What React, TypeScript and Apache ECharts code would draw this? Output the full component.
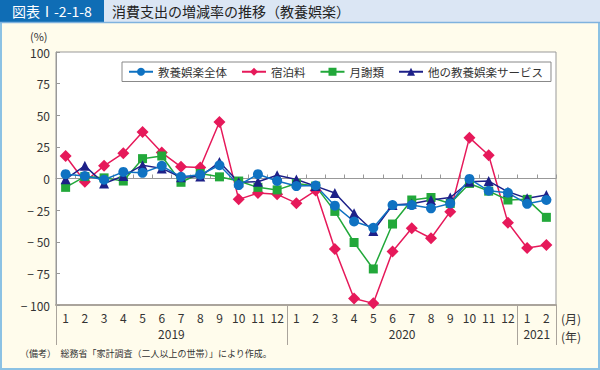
import React, { useEffect, useRef } from "react";
import * as echarts from "echarts";

const months = [
  "1", "2", "3", "4", "5", "6", "7", "8", "9", "10", "11", "12",
  "1", "2", "3", "4", "5", "6", "7", "8", "9", "10", "11", "12",
  "1", "2",
];
const yearLabels: Record<number, string> = { 6: "2019", 18: "2020", 25: "2021" };
const yearBoundaries = [0, 12, 24];

const totalName = "教養娯楽全体";
const lodgingName = "宿泊料";
const tuitionName = "月謝類";
const otherName = "他の教養娯楽サービス";

const total = [3.4, 2, -1, 5.2, 4.5, 10, 1.3, 3, 10.5, -5.2, 3.4, -2, -6, -5.5, -21.5, -34, -39, -21, -21, -23.6, -19.7, -0.3, -9.7, -11.3, -20, -17];
const lodging = [17.8, -2.6, 10, 20, 36.7, 20.5, 9.2, 8.7, 44.6, -16.5, -11.5, -12.5, -19.5, -9.5, -55.8, -94.8, -98.7, -57.7, -39.4, -47.2, -26.2, 32.3, 18.4, -34.9, -55, -52.5];
const tuition = [-7, 1.5, 0.5, -2, 15.7, 17.8, -3, 4, 1.3, -2, -7, -9, -4, -6, -26, -50.6, -71.5, -36, -17, -15, -19.7, -3.9, -10, -17, -16.5, -30.7];
const other = [-0.5, 10, -4, 2, 10.5, 8, 1, 1.5, 13, -3, -2.6, 2.6, -0.8, -6, -11.5, -27.5, -41.5, -21, -20, -17, -15, -2.6, -2, -10.5, -15.7, -13];

const FONT = "'Noto Sans CJK JP', 'Noto Sans', sans-serif";

export default function App() {
  const ref = useRef<HTMLDivElement>(null);
  useEffect(() => {
    if (!ref.current) return;
    document.body.style.margin = "0";
    const chart = echarts.init(ref.current, undefined, { renderer: "svg" });
    const mk = (name: string, data: number[], color: string, symbol: string, size: number) => ({
      name,
      type: "line",
      data,
      xAxisIndex: 0,
      yAxisIndex: 0,
      symbol,
      symbolSize: size,
      showSymbol: true,
      showAllSymbol: true,
      itemStyle: { color },
      lineStyle: { color, width: 1.5 },
    });
    chart.setOption({
      animation: false,
      backgroundColor: "#fffcec",
      textStyle: { fontFamily: FONT },
      grid: {
        left: 56, right: 44, top: 52, bottom: 65,
        show: true, backgroundColor: "#ffffff", borderColor: "#999", borderWidth: 1,
      },
      legend: {
        left: 122, top: 62,
        padding: [4, 8, 4, 6],
        itemWidth: 24, itemHeight: 10, itemGap: 14,
        borderColor: "#888", borderWidth: 1, backgroundColor: "#fff",
        textStyle: { fontSize: 11.5, color: "#333", fontFamily: FONT },
        data: [totalName, lodgingName, tuitionName, otherName],
      },
      xAxis: [
        {
          type: "category",
          data: months,
          position: "bottom",
          boundaryGap: true,
          axisLine: { onZero: false, lineStyle: { color: "#aaa49c", width: 2 } },
          axisTick: {
            show: true,
            length: 40,
            interval: (i: number) => yearBoundaries.includes(i),
            lineStyle: { color: "#aaa49c", width: 1 },
          },
          axisLabel: { interval: 0, fontSize: 12, color: "#333", margin: 6, fontFamily: FONT },
          splitLine: { show: false },
        },
        {
          type: "category",
          data: months,
          position: "bottom",
          boundaryGap: true,
          axisLine: { onZero: true, lineStyle: { color: "#999", width: 1 } },
          axisTick: { show: true, inside: true, length: 4, interval: 0, lineStyle: { color: "#999" } },
          axisLabel: { show: false },
          splitLine: { show: false },
        },
        {
          type: "value",
          min: 0, max: 26, interval: 1,
          position: "bottom",
          axisLine: { show: false, onZero: false },
          axisTick: { show: false },
          splitLine: { show: false },
          axisLabel: {
            fontSize: 12, color: "#333", margin: 22, fontFamily: FONT,
            formatter: (v: number) => yearLabels[v] || "",
          },
        },
      ],
      yAxis: {
        type: "value",
        min: -100, max: 100, interval: 25,
        axisLine: { show: true, onZero: false, lineStyle: { color: "#999" } },
        axisTick: { show: true, inside: true, length: 4, lineStyle: { color: "#999" } },
        splitLine: { show: false },
        axisLabel: {
          fontSize: 12, color: "#333", margin: 6, fontFamily: FONT,
          formatter: (v: number) => (v < 0 ? "\u2212 " + Math.abs(v) : String(v)),
        },
      },
      series: [
        mk(lodgingName, lodging, "#e6195a", "diamond", 12),
        mk(tuitionName, tuition, "#22a83a", "rect", 9),
        mk(otherName, other, "#1d2088", "triangle", 10),
        mk(totalName, total, "#0f72c2", "circle", 10),
      ],
      graphic: [
        { type: "rect", shape: { x: 1, y: 1, width: 598, height: 368 }, style: { fill: "none", stroke: "#8cc2e4", lineWidth: 2 }, z: 100 },
        { type: "rect", shape: { x: 0, y: 0, width: 600, height: 22 }, style: { fill: "#dbe6f4" }, z: 101 },
        { type: "rect", shape: { x: 0, y: 0, width: 104, height: 22 }, style: { fill: "#0f6db5" }, z: 102 },
        { type: "line", shape: { x1: 0, y1: 22.5, x2: 600, y2: 22.5 }, style: { stroke: "#7fb2de", lineWidth: 1.5 }, z: 102 },
        { type: "text", x: 12, y: 11, z: 103, style: { text: "図表Ⅰ-2-1-8", fill: "#fff", fontSize: 14, fontFamily: FONT, verticalAlign: "middle" } },
        { type: "text", x: 112, y: 11, z: 103, style: { text: "消費支出の増減率の推移（教養娯楽）", fill: "#222", fontSize: 14, fontFamily: FONT, verticalAlign: "middle" } },
        { type: "text", x: 30, y: 36, z: 103, style: { text: "(%)", fill: "#333", fontSize: 11, fontFamily: FONT, verticalAlign: "middle" } },
        { type: "text", x: 561, y: 318, z: 103, style: { text: "(月)", fill: "#333", fontSize: 12, fontFamily: FONT, verticalAlign: "middle" } },
        { type: "text", x: 561, y: 336, z: 103, style: { text: "(年)", fill: "#333", fontSize: 12, fontFamily: FONT, verticalAlign: "middle" } },
        { type: "text", x: 20, y: 353, z: 103, style: { text: "（備考）　総務省「家計調査（二人以上の世帯）」により作成。", fill: "#333", fontSize: 9, fontFamily: FONT, verticalAlign: "middle" } },
      ],
    });
    return () => chart.dispose();
  }, []);
  return <div ref={ref} style={{ width: 600, height: 370, position: "absolute", left: 0, top: 0 }} />;
}
